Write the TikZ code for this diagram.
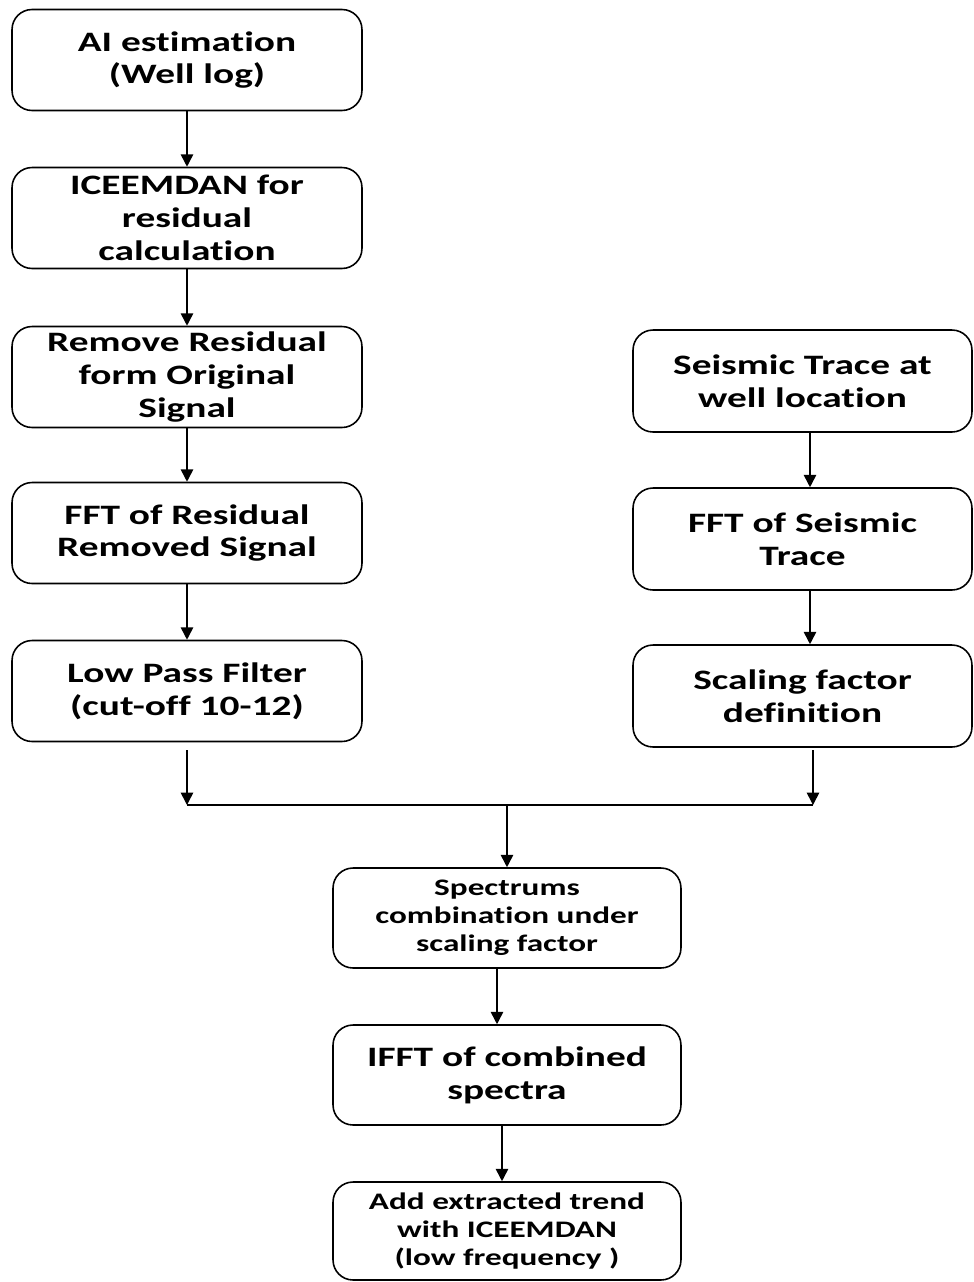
\documentclass[tikz,border=0pt]{standalone}
\usepackage{fontspec}
\setmainfont{Carlito}[FakeStretch=1.4, RawFeature=-liga]
\usetikzlibrary{arrows.meta}
\begin{document}
\begin{tikzpicture}[x=0.02cm,y=-0.02cm,
  box/.style={draw, line width=0.9pt, rounded corners=0.4cm, align=center, inner sep=0pt,
    font=\bfseries\fontsize{16}{18.6}\selectfont},
  lbox/.style={box, minimum width=7cm, minimum height=2.02cm},
  rbox/.style={box, minimum width=6.78cm, minimum height=2.04cm},
  cbox/.style={box, minimum width=6.96cm, minimum height=2cm},
  small/.style={font=\bfseries\fontsize{13.5}{15.9}\selectfont},
  arr/.style={line width=0.9pt, -{Triangle[width=7pt,length=7pt]}},
  ln/.style={line width=0.9pt}]
\useasboundingbox (0,0) rectangle (974,1282);
% left column
\node[lbox] (a1) at (187,60) {AI estimation\\(Well log)};
\node[lbox] (a2) at (187,218) {ICEEMDAN for\\residual\\calculation};
\node[lbox] (a3) at (187,377) {Remove Residual\\form Original\\Signal};
\node[lbox] (a4) at (187,533) {FFT of Residual\\Removed Signal};
\node[lbox] (a5) at (187,691) {Low Pass Filter\\(cut-off 10-12)};
% right column
\node[rbox] (r1) at (802.5,381) {Seismic Trace at\\well location};
\node[rbox] (r2) at (802.5,539) {FFT of Seismic\\Trace};
\node[rbox] (r3) at (802.5,696) {Scaling factor\\definition};
% bottom column
\node[cbox, small] (c1) at (507,918) {Spectrums\\combination under\\scaling factor};
\node[cbox] (c2) at (507,1075) {IFFT of combined\\spectra};
\node[cbox, small, minimum height=1.96cm] (c3) at (507,1231) {Add extracted trend\\with ICEEMDAN\\(low frequency )};
% coordinates
\coordinate (jl) at (187,805);
\coordinate (jr) at (813,805);
\coordinate (j) at (507,805);
\coordinate (sl) at (187,750);
\coordinate (sr) at (813,750);
% connectors
\draw[arr] (a1) -- (a2);
\draw[arr] (a2) -- (a3);
\draw[arr] (a3) -- (a4);
\draw[arr] (a4) -- (a5);
\draw[arr] ([xshift=0.15cm]r1.south) -- ([xshift=0.15cm]r2.north);
\draw[arr] ([xshift=0.15cm]r2.south) -- ([xshift=0.15cm]r3.north);
\draw[arr] (sl) -- (jl);
\draw[arr] (sr) -- (jr);
\draw[ln] (jl) -- (jr);
\draw[arr] (j) -- (c1);
\draw[arr] ([xshift=-0.2cm]c1.south) -- ([xshift=-0.2cm]c2.north);
\draw[arr] ([xshift=-0.1cm]c2.south) -- ([xshift=-0.1cm]c3.north);
\end{tikzpicture}
\end{document}
